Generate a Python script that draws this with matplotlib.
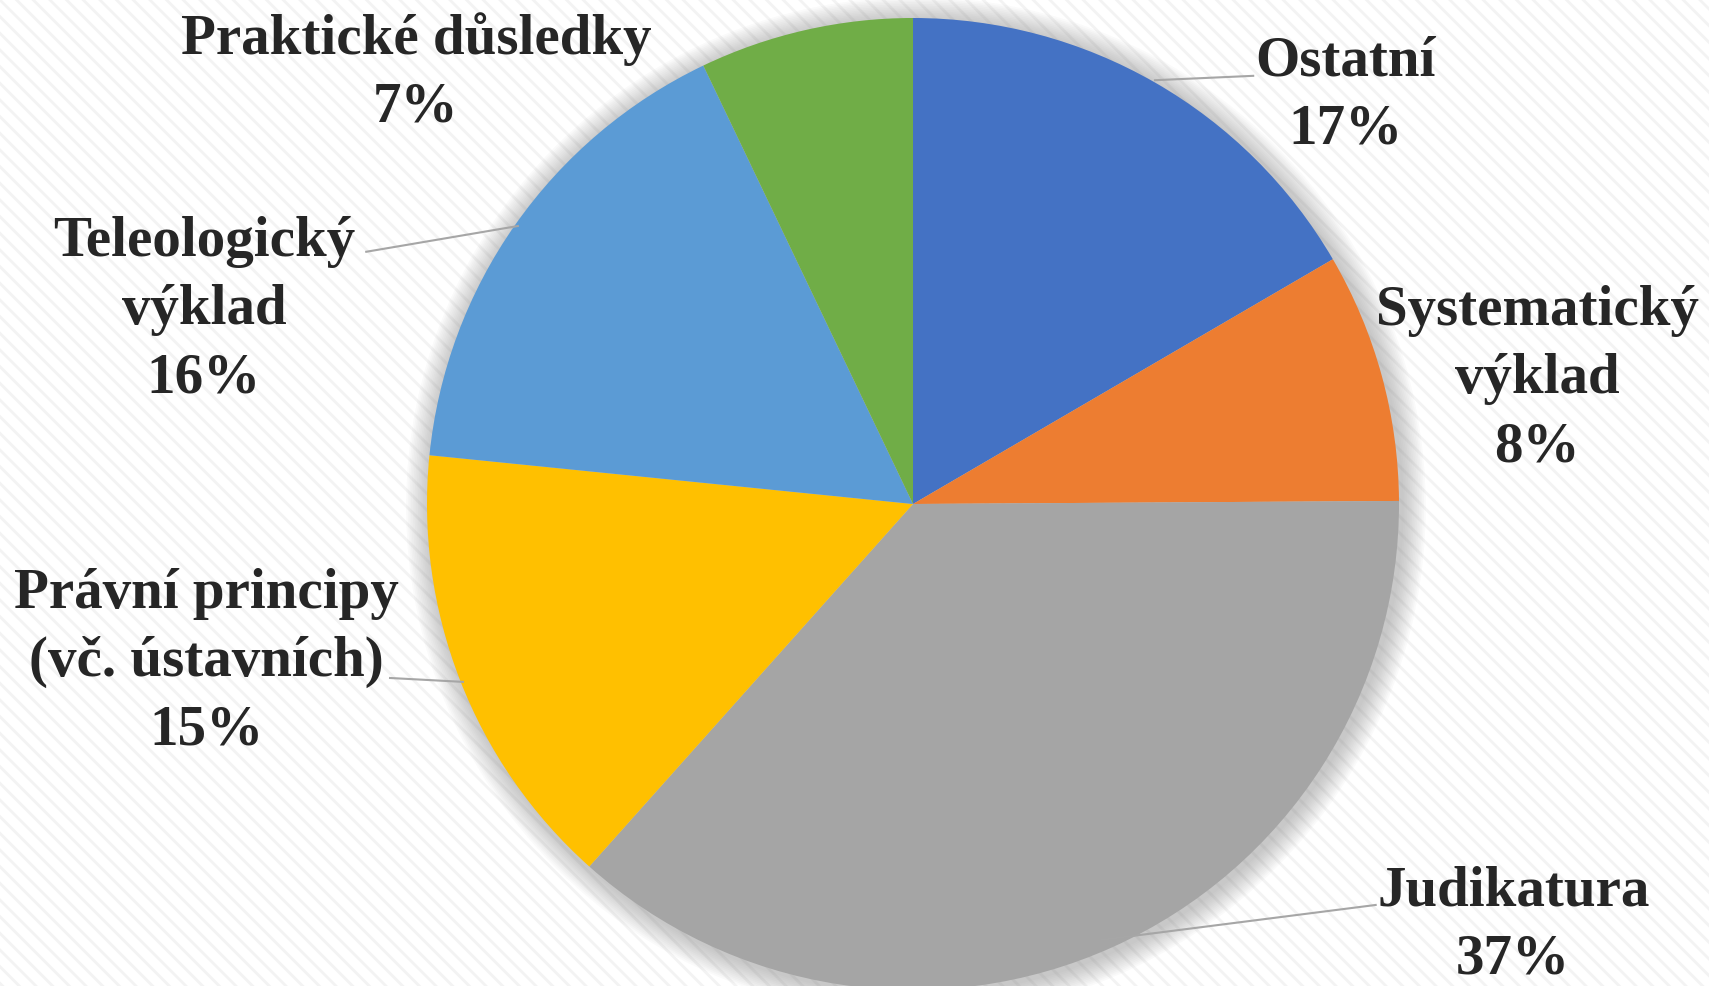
import matplotlib
matplotlib.use("Agg")
import matplotlib.pyplot as plt
from matplotlib.patches import Circle, Rectangle

categories = ["Ostatní", "Systematický\nvýklad", "Judikatura",
              "Právní principy\n(vč. ústavních)", "Teleologický\nvýklad",
              "Praktické důsledky"]
values = [16.6, 8.3, 36.7, 15.0, 16.3, 7.1]
pct_labels = ["17%", "8%", "37%", "15%", "16%", "7%"]
colors = ["#4472C4", "#ED7D31", "#A5A5A5", "#FFC000", "#5B9BD5", "#70AD47"]

# label block centres (data units, pie radius = 1)
label_pos = [(0.89, 0.84), (1.284, 0.257), (1.235, -0.868),
             (-1.453, -0.325), (-1.459, 0.399), (-1.023, 0.887)]
# leader lines (from pie edge to label) or None
leaders = [((0.498, 0.872), (0.70, 0.881)), None,
           ((0.387, -0.897), (0.952, -0.825)),
           ((-1.076, -0.358), (-0.926, -0.366)),
           ((-1.125, 0.519), (-0.813, 0.572)), None]

plt.rcParams['hatch.linewidth'] = 2.0
plt.rcParams['hatch.color'] = '#f3f3f3'

fig = plt.figure(figsize=(17.09, 9.86), dpi=100)
fig.patch.set_facecolor('white')
bg = Rectangle((0, 0), 1, 1, transform=fig.transFigure, facecolor='white',
               edgecolor='#f3f3f3', hatch='\\\\', linewidth=0, zorder=-10)
fig.patches.append(bg)

ax = fig.add_axes([0, 0, 1, 1], zorder=1)
ax.patch.set_alpha(0)

# soft shadow
for k in range(14):
    r = 1.0 + 0.0035 * (14 - k)
    ax.add_patch(Circle((0.006, -0.006), r, facecolor='#7f7f7f', alpha=0.035,
                        edgecolor='none', zorder=1))

wedges, _ = ax.pie(values, colors=colors, startangle=90, counterclock=False,
                   radius=1.0, center=(0, 0),
                   wedgeprops=dict(linewidth=0))
for w in wedges:
    w.set_zorder(2)

ax.set_xlim(-913 / 486, (1709 - 913) / 486)
ax.set_ylim(-(986 - 504) / 486, 504 / 486)
ax.set_aspect('equal', adjustable='box')
ax.axis('off')

for cat, pct, (x, y) in zip(categories, pct_labels, label_pos):
    ax.text(x, y, cat + "\n" + pct, ha='center', va='center',
            fontsize=41, fontweight='bold', family='Liberation Serif',
            color='#262626', linespacing=1.4, zorder=5)

for ld in leaders:
    if ld is None:
        continue
    (x0, y0), (x1, y1) = ld
    ax.plot([x0, x1], [y0, y1], color='#a6a6a6', linewidth=1.5, zorder=4)

fig.savefig("out.png", dpi=100)
